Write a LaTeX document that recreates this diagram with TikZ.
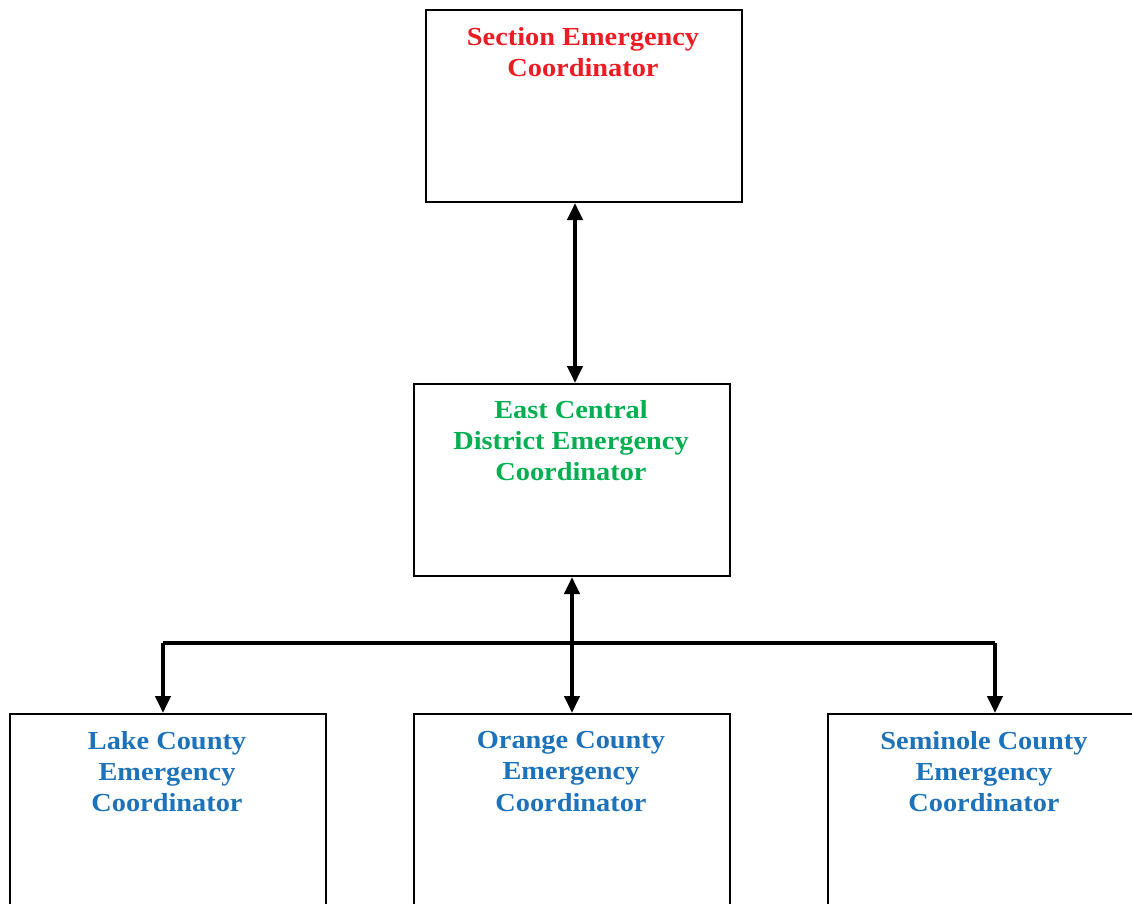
\documentclass[tikz,border=0pt]{standalone}
\usepackage{fontspec}
\setmainfont{Liberation Serif}
\newfontfamily\lblfont{Liberation Serif}[FakeStretch=1.09]
\usetikzlibrary{arrows.meta}
\definecolor{secred}{RGB}{237,28,36}
\definecolor{distgreen}{RGB}{0,176,80}
\definecolor{cntblue}{RGB}{30,114,186}
\tikzset{
  box/.style={draw=black, line width=2pt, fill=white, rectangle, anchor=north west},
  lbl/.style={font=\lblfont\fontsize{26}{31.3}\selectfont\bfseries, align=center, anchor=north, inner sep=0pt},
  link/.style={line width=4pt, -{Triangle[width=15pt,length=17pt]}},
  dlink/.style={line width=4pt, {Triangle[width=15pt,length=17pt]}-{Triangle[width=15pt,length=17pt]}},
}
\begin{document}
\begin{tikzpicture}[x=1pt,y=-1pt]
\useasboundingbox (0,0) rectangle (1132,903);
% boxes
\node[box, minimum width=316pt, minimum height=192pt] (sec) at (425,9) {};
\node[box, minimum width=316pt, minimum height=192pt] (dist) at (413,383) {};
\node[box, minimum width=316pt, minimum height=220pt] (lake) at (9,713) {};
\node[box, minimum width=316pt, minimum height=220pt] (orange) at (413,713) {};
\node[box, minimum width=330pt, minimum height=220pt] (semi) at (827,713) {};
% labels
\node[lbl, text=secred] (secl) at (583,27) {Section Emergency\\Coordinator};
\node[lbl, text=distgreen] (distl) at (571,400) {East Central\\District Emergency\\Coordinator};
\node[lbl, text=cntblue] (lakel) at (167,731) {Lake County\\Emergency\\Coordinator};
\node[lbl, text=cntblue] (orangel) at (571,731) {Orange County\\Emergency\\Coordinator};
\node[lbl, text=cntblue] (semil) at (984,731) {Seminole County\\Emergency\\Coordinator};
% connectors
\coordinate (jl) at (163,643);
\coordinate (jr) at (995,643);
\draw[dlink] (sec.south -| 575,0) -- (dist.north -| 575,0);
\draw[dlink] (dist.south -| 572,0) -- (orange.north -| 572,0);
\draw[line width=4pt] (jl) -- (jr);
\draw[link] (jr) -- (semi.north -| jr);
\draw[link] (jl) -- (lake.north -| jl);
\end{tikzpicture}
\end{document}
